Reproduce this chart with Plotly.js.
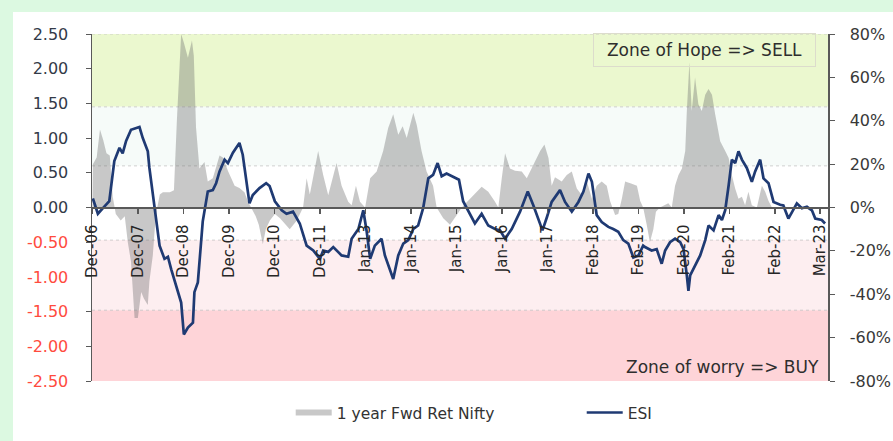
<!DOCTYPE html>
<html><head><meta charset="utf-8">
<script src="https://cdn.plot.ly/plotly-3.0.1.min.js"></script>
<style>
html,body{margin:0;padding:0;background:#dcf9e1;}
#chart{position:absolute;left:13px;top:12px;width:880px;height:429px;background:#fff;}
</style></head><body>
<div id="chart"></div>
<script>
// ESI (left axis)
const esiDates = ['2006-12-05','2007-01-15','2007-02-25','2007-04-18','2007-05-29','2007-07-10','2007-08-05','2007-09-02','2007-10-12','2007-12-20',
'2008-01-16','2008-02-26','2008-03-10','2008-04-20','2008-06-01','2008-07-11','2008-08-08','2008-09-04','2008-10-28','2008-11-24',
'2008-12-16','2009-01-18','2009-02-28','2009-03-12','2009-04-09','2009-05-19','2009-06-29','2009-08-09','2009-09-05','2009-10-03',
'2009-11-13','2009-12-10','2010-01-20','2010-03-14','2010-04-10','2010-06-04','2010-07-01','2010-08-25','2010-10-18','2010-11-15',
'2010-12-28','2011-02-22','2011-04-02','2011-05-25','2011-07-19','2011-09-13','2011-11-06','2011-12-30','2012-01-26','2012-03-07',
'2012-04-17','2012-06-24','2012-08-17','2012-09-14','2012-11-08','2012-12-18','2013-01-15','2013-02-12','2013-03-22','2013-05-16',
'2013-06-12','2013-08-19','2013-09-29','2013-11-09','2013-12-20','2014-01-30','2014-03-10','2014-04-20','2014-06-01','2014-07-10',
'2014-08-16','2014-09-18','2014-10-28','2014-12-08','2015-02-06','2015-03-12','2015-04-22','2015-06-16','2015-08-10','2015-10-03',
'2015-11-27','2016-01-07','2016-02-17','2016-04-11','2016-06-18','2016-08-20','2016-10-05','2016-11-15','2016-12-18','2017-01-23',
'2017-03-03','2017-05-10','2017-06-20','2017-08-14','2017-10-07','2017-11-17','2017-12-28','2018-01-25','2018-03-05','2018-04-15',
'2018-06-08','2018-07-18','2018-08-28','2018-10-08','2018-11-18','2018-12-29','2019-02-09','2019-03-19','2019-04-03','2019-05-27',
'2019-07-07','2019-08-17','2019-09-14','2019-10-24','2019-12-04','2020-01-15','2020-02-11','2020-03-09','2020-03-22','2020-04-05',
'2020-05-02','2020-06-26','2020-08-06','2020-09-02','2020-10-13','2020-11-23','2020-12-20','2021-01-16','2021-02-13','2021-03-11',
'2021-04-07','2021-05-04','2021-06-01','2021-07-11','2021-08-21','2021-09-17','2021-10-28','2021-11-24','2022-01-04','2022-02-14',
'2022-04-09','2022-05-05','2022-06-15','2022-08-23','2022-10-03','2022-11-13','2022-12-24','2023-01-20','2023-03-14','2023-04-10'];
const esiValues = [0.13,-0.09,-0.01,0.09,0.67,0.86,0.78,0.96,1.12,1.16,
1.00,0.81,0.57,-0.01,-0.55,-0.74,-0.71,-0.89,-1.22,-1.37,
-1.83,-1.73,-1.66,-1.22,-1.08,-0.20,0.23,0.25,0.35,0.52,
0.69,0.64,0.79,0.93,0.76,0.06,0.18,0.28,0.35,0.31,
0.09,-0.04,-0.09,-0.06,-0.23,-0.55,-0.62,-0.74,-0.62,-0.64,
-0.57,-0.69,-0.71,-0.45,-0.31,-0.04,-0.35,-0.74,-0.55,-0.45,
-0.69,-1.03,-0.69,-0.52,-0.47,-0.31,-0.26,-0.01,0.42,0.47,
0.64,0.45,0.49,0.45,0.40,0.09,-0.04,-0.23,-0.09,-0.26,
-0.31,-0.33,-0.45,-0.31,-0.06,0.23,0.03,-0.16,-0.33,-0.14,
0.08,0.25,0.08,-0.06,0.08,0.23,0.49,0.37,-0.11,-0.21,
-0.28,-0.31,-0.35,-0.47,-0.52,-0.72,-0.69,-0.55,-0.57,-0.62,
-0.60,-0.81,-0.62,-0.50,-0.45,-0.50,-0.60,-0.98,-1.20,-0.98,
-0.89,-0.69,-0.47,-0.26,-0.33,-0.11,-0.18,-0.04,0.32,0.69,
0.64,0.81,0.69,0.57,0.37,0.52,0.69,0.42,0.35,0.08,
0.04,0.03,-0.16,0.06,-0.01,0.01,-0.04,-0.16,-0.18,-0.23];

// 1 year forward return Nifty (right axis, %)
const fwdDates = ['2006-12-01','2006-12-05','2007-01-05','2007-02-01','2007-02-28','2007-03-26','2007-04-22','2007-05-16','2007-06-10','2007-07-20',
'2007-08-22','2007-09-16','2007-10-12','2007-11-10','2007-12-07','2008-01-03','2008-01-25','2008-02-26','2008-03-10','2008-04-07',
'2008-04-29','2008-05-13','2008-06-03','2008-06-28','2008-08-24','2008-09-26','2008-10-20','2008-11-24','2008-12-16','2009-01-18',
'2009-02-20','2009-03-07','2009-03-25','2009-04-22','2009-06-02','2009-06-29','2009-08-09','2009-10-03','2009-10-30','2009-12-10',
'2010-02-03','2010-03-14','2010-04-24','2010-05-21','2010-06-17','2010-07-25','2010-08-19','2010-09-21','2010-10-15','2010-11-17',
'2010-12-28','2011-02-08','2011-04-28','2011-06-25','2011-08-15','2011-09-13','2011-10-09','2011-12-16','2012-01-26','2012-03-07',
'2012-05-14','2012-06-24','2012-08-17','2012-09-14','2012-10-19','2012-11-21','2013-01-02','2013-02-12','2013-04-06','2013-05-29',
'2013-07-09','2013-08-19','2013-09-29','2013-11-04','2013-12-07','2014-01-30','2014-02-27','2014-04-07','2014-05-18','2014-07-10',
'2014-08-08','2014-10-01','2014-11-25','2015-01-19','2015-03-01','2015-04-20','2015-08-10','2015-10-03','2015-11-27','2015-12-24',
'2016-01-21','2016-02-17','2016-03-28','2016-05-08','2016-07-02','2016-08-12','2016-10-05','2016-11-29','2017-01-03','2017-02-05',
'2017-03-03','2017-03-30','2017-05-24','2017-07-04','2017-08-14','2017-09-24','2017-11-04','2017-12-15','2018-01-25','2018-03-05',
'2018-04-15','2018-05-26','2018-06-22','2018-08-02','2018-08-28','2018-09-26','2018-10-23','2018-12-16','2019-01-27','2019-02-23',
'2019-03-19','2019-04-17','2019-05-13','2019-06-10','2019-07-01','2019-08-03','2019-10-10','2019-11-07','2019-12-04','2020-01-01',
'2020-01-29','2020-02-25','2020-03-09','2020-03-30','2020-04-18','2020-05-15','2020-06-11','2020-07-09','2020-08-06','2020-09-02',
'2020-09-30','2020-10-26','2020-12-06','2021-01-16','2021-02-13','2021-03-11','2021-04-07','2021-05-04','2021-06-01','2021-06-27',
'2021-07-24','2021-08-21','2021-10-01','2021-11-11','2021-12-08','2022-01-04','2022-02-01'];
const fwdValues = [0,20,23,36,31,25,24,5,-3,-6,
-4,-16,-25,-51,-51,-39,-42,-45,-34,-22,
-5,0,6,7,7,8,40,80,76,69,
77,70,37,18,21,12,13.5,24,23,17,
10,9,7,3,0,-4,-8,-17,-10,-6,
-3,-5,-10,-6,0,13.5,6,26,15,5.7,
20.5,10,2.6,1,10,2.6,0,13.5,16.6,26,
36.7,43,33.6,37.5,32,43.7,38,26,16.6,10,
0,-5,-8,-3.5,0,3,9.6,7.3,2.6,0,
13.5,25,18,17,16.6,13.5,19.7,26,29,22.8,
10,14,12,15,16.6,8.8,5.7,12,4,10,
12,10,3,-3.5,-3,4,12,11,10,3,
0,-8,-16,-10,-2,0,2,0,10,15,
18,26,44.5,67,44.5,60,47.6,44.5,52,54.6,
52,43,30.5,26,22.8,15,8.8,4,5,1,
7.3,1,0,10,7.3,3,0];

const xTickDates = ['2006-12-01','2007-12-07','2008-12-12','2009-12-18','2010-12-23','2011-12-29','2013-01-05','2014-01-10','2015-01-16',
'2016-01-22','2017-01-27','2018-02-03','2019-02-08','2020-02-14','2021-02-20','2022-02-25','2023-03-01'];
const xTickLabels = ['Dec-06','Dec-07','Dec-08','Dec-09','Dec-10','Dec-11','Jan-13','Jan-14','Jan-15','Jan-16','Jan-17','Feb-18','Feb-19','Feb-20','Feb-21','Feb-22','Mar-23'];
const leftTicks = [2.5,2,1.5,1,0.5,0,-0.5,-1,-1.5,-2,-2.5];
const rightTicks = [80,60,40,20,0,-20,-40,-60,-80];
const zones = [
  {from:1.45, to:2.5, color:'#ebf8cf'},
  {from:0.6, to:1.45, color:'#f6fbf9'},
  {from:-1.48, to:-0.47, color:'#fdeef0'},
  {from:-2.5, to:-1.48, color:'#fed4d8'}
];
const zoneLines = [2.5,1.45,0.6,-0.47,-1.48];

const leftText = leftTicks.map(v => v < 0
  ? '<span style="color:#ff4b3e">' + v.toFixed(2) + '</span>'
  : v.toFixed(2));
const rightText = rightTicks.map(v => v + '%');

const F = '"DejaVu Sans", Lato, sans-serif';

const traces = [
  {x: fwdDates, y: fwdValues, name: '1 year Fwd Ret Nifty', type: 'scatter', mode: 'none',
   fill: 'tozeroy', fillcolor: 'rgba(110,110,110,0.38)', xaxis: 'x', yaxis: 'y', hoverinfo: 'skip'},
  {x: esiDates, y: esiValues, name: 'ESI', type: 'scatter', mode: 'lines',
   line: {color: '#1f3a73', width: 2.7}, xaxis: 'x', yaxis: 'y2'}
];

const shapes = [];
zones.forEach(z => shapes.push({type:'rect', xref:'paper', yref:'y2', x0:0, x1:1, y0:z.from, y1:z.to,
  fillcolor:z.color, line:{width:0}, layer:'below'}));
zoneLines.forEach(v => shapes.push({type:'line', xref:'paper', yref:'y2', x0:0, x1:1, y0:v, y1:v,
  line:{color:'rgba(190,190,190,0.7)', width:1, dash:'dot'}, layer:'below'}));

const layout = {
  width: 880, height: 429,
  margin: {l: 79, r: 65, t: 22, b: 60, autoexpand: false},
  paper_bgcolor: '#ffffff', plot_bgcolor: 'rgba(0,0,0,0)',
  font: {family: F, size: 15, color: '#333333'},
  showlegend: true,
  xaxis: {type: 'date', range: ['2006-11-28','2023-05-04'], anchor: 'free', position: 0.5,
    tickmode: 'array', tickvals: xTickDates, ticktext: xTickLabels, tickangle: -90,
    ticks: 'outside', ticklen: 5, tickcolor: '#595959', tickwidth: 1.5,
    showline: true, linecolor: '#595959', linewidth: 2, showgrid: false, zeroline: false,
    tickfont: {family: F, size: 15, color: '#262626'}, ticklabelstandoff: 5},
  yaxis: {range: [-80, 80], side: 'right', tickmode: 'array', tickvals: rightTicks, ticktext: rightText,
    ticks: 'outside', ticklen: 5, tickcolor: '#595959', showline: true, linecolor: '#595959', linewidth: 1.5,
    showgrid: false, zeroline: false, tickfont: {family: F, size: 16, color: '#383838'}, ticklabelstandoff: 12},
  yaxis2: {range: [-2.5, 2.5], side: 'left', overlaying: 'y', tickmode: 'array', tickvals: leftTicks, ticktext: leftText,
    ticks: 'outside', ticklen: 5, tickcolor: '#595959', showline: true, linecolor: '#595959', linewidth: 1.5,
    showgrid: false, zeroline: false, tickfont: {family: F, size: 16, color: '#333a48'}, ticklabelstandoff: 14},
  legend: {orientation: 'h', x: 0.27, xanchor: 'left', y: -0.092, yanchor: 'middle', itemwidth: 36,
    font: {family: F, size: 15.5, color: '#333333'}, entrywidth: 240, entrywidthmode: 'pixels', bgcolor: 'rgba(0,0,0,0)'},
  shapes: shapes,
  annotations: [
    {xref: 'paper', yref: 'paper', x: 0.832, y: 0.955, xanchor: 'center', yanchor: 'middle', showarrow: false,
     text: 'Zone of Hope => SELL', font: {family: F, size: 17, color: '#2e2e2e'}, width: 209,
     bordercolor: '#dcdccc', borderwidth: 1, borderpad: 6},
    {xref: 'paper', yref: 'paper', x: 0.99, y: 0.041, xanchor: 'right', yanchor: 'middle', showarrow: false,
     text: 'Zone of worry => BUY', font: {family: F, size: 17, color: '#2e2e2e'}}
  ]
};

Plotly.newPlot('chart', traces, layout, {displayModeBar: false, staticPlot: true});
</script></body></html>
